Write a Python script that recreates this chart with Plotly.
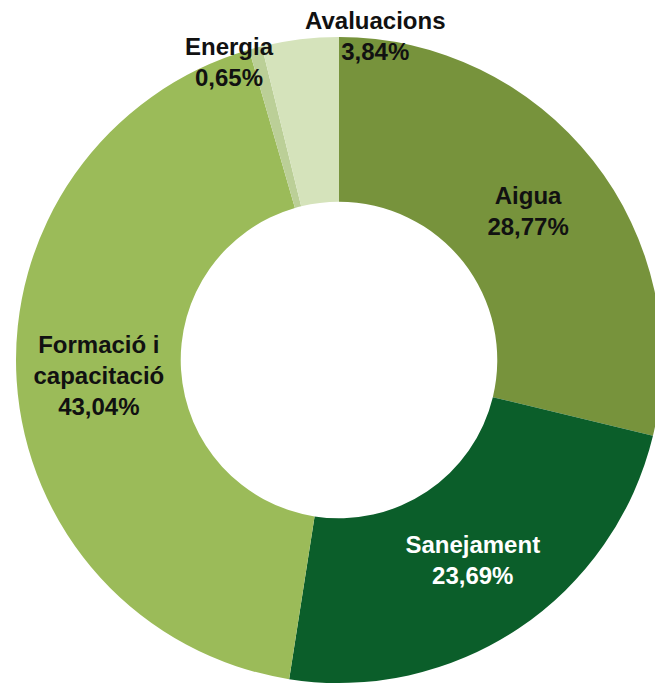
import plotly.graph_objects as go

categories = ["Aigua", "Sanejament", "Formació i<br>capacitació", "Energia", "Avaluacions"]
values = [28.77, 23.69, 43.04, 0.65, 3.84]
colors = ["#77933C", "#0B5E2A", "#9BBB59", "#BBCF97", "#D5E3BB"]
text_colors = ["#111111", "#FFFFFF", "#111111", "#111111", "#111111"]

# the two thin slices get their labels outside the ring, as annotations
small = {"Energia": (0.336, 0.955), "Avaluacions": (0.551, 0.993)}

templates = ["" if c in small else "<b>%{label}</b><br><b>%{value:.2f}%</b>" for c in categories]

fig = go.Figure()
fig.add_trace(go.Pie(
    labels=categories, values=values, sort=False, direction="clockwise", rotation=0,
    hole=0.49, marker=dict(colors=colors, line=dict(width=0)),
    texttemplate=templates, textposition="inside", insidetextorientation="horizontal",
    textfont=dict(family="Liberation Sans, Arial, sans-serif", size=24, color=text_colors),
    hoverinfo="label+percent", showlegend=False,
    domain=dict(x=[0.02346, 0.97067], y=[0.00146, 0.9459]),
))

for c, (ax, ay) in small.items():
    v = values[categories.index(c)]
    fig.add_annotation(
        x=ax, y=ay, xref="paper", yref="paper", xanchor="center", yanchor="top",
        text=f"<b>{c}</b><br><b>{v:.2f}%</b>".replace(".", ","), showarrow=False,
        font=dict(family="Liberation Sans, Arial, sans-serif", size=24, color="#111111"),
    )

fig.update_layout(
    width=682, height=684, margin=dict(l=0, r=0, t=0, b=0),
    paper_bgcolor="white", plot_bgcolor="white", separators=",.",
    uniformtext=dict(minsize=24, mode="show"),
)

fig.write_html("out.html", config={"displayModeBar": False},
               post_script="document.body.style.margin='0';document.body.style.overflow='hidden';document.documentElement.style.overflow='hidden';")
